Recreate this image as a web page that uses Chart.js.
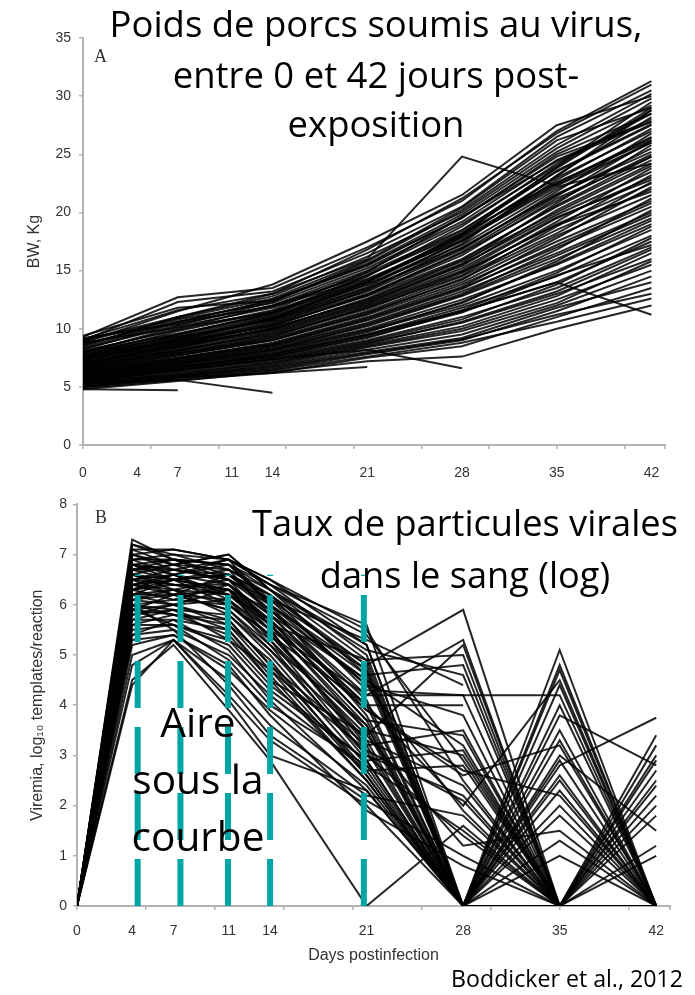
<!DOCTYPE html>
<html lang="fr">
<head>
<meta charset="utf-8">
<title>Boddicker et al., 2012</title>
<script src="https://cdn.jsdelivr.net/npm/chart.js@4.4.1/dist/chart.umd.min.js"></script>
<style>
html,body{margin:0;padding:0;background:#fff;}
#page{position:relative;width:695px;height:995px;overflow:hidden;background:#fff;}
#chartA,#chartB{position:absolute;left:0;}
#chartA{top:0;}
#chartB{top:490px;}
.ov{position:absolute;white-space:nowrap;color:#000;font-family:"Open Sans",sans-serif;transform:translateX(-50%);}
.panel{position:absolute;font-family:"Liberation Serif","Times New Roman",serif;font-size:18px;line-height:18px;color:#333;}
</style>
</head>
<body>
<div id="page">
<canvas id="chartA" width="695" height="490"></canvas>
<canvas id="chartB" width="695" height="505"></canvas>
<div class="panel" style="left:94px;top:47px;">A</div>
<div class="panel" style="left:95px;top:508px;">B</div>
</div>
<script>
// ---------------- DATA ----------------
const dayTickLabels = [0, 4, 7, 11, 14, 21, 28, 35, 42];
const weightDays = [0, 7, 14, 21, 28, 35, 42];
const viremiaDays = [0, 4, 7, 11, 14, 21, 28, 35, 42];

// Panel A: body weight (kg) per pig at weightDays
const weightsHeavy = [
  [9.3, 12.7, 13.5, 17.0, 21.0, 27.0, 31.3],
  [9.0, 12.3, 13.2, 16.5, 20.5, 26.5, 30.5],
  [9.2, 10.4, 12.0, 14.6, 18.2, 22.6, 26.2],
  [9.0, 11.0, 12.8, 16.2, 20.0, 25.5, 29.8],
  [8.8, 11.5, 13.8, 17.5, 21.5, 27.5, 30.0],
  [8.7, 10.6, 11.9, 14.3, 17.6, 22.2, 24.2],
  [8.6, 10.8, 12.2, 15.2, 19.2, 24.5, 28.0],
  [8.5, 11.0, 13.0, 16.0, 24.8, 22.3, 26.0],
  [8.3, 10.3, 12.3, 15.8, 20.2, 25.8, 30.2],
  [8.2, 10.5, 12.5, 15.5, 19.5, 25.0, 28.5],
  [8.0, 10.0, 12.0, 15.0, 19.0, 24.0, 29.5],
  [8.0, 9.6, 11.2, 14.5, 18.8, 24.2, 28.5],
  [7.9, 10.2, 11.8, 14.8, 18.5, 23.5, 27.5]
];
const weightsMid = [
  [7.8, 9.3, 10.7, 13.2, 16.8, 21.8, 26.8],
  [7.7, 9.8, 11.5, 14.2, 18.0, 23.0, 27.0],
  [7.6, 9.0, 10.9, 13.8, 17.5, 22.8, 27.2],
  [7.5, 9.5, 11.3, 14.0, 17.8, 22.5, 26.5],
  [7.5, 8.9, 10.2, 12.9, 16.3, 21.2, 24.8],
  [7.4, 9.2, 11.0, 13.8, 17.2, 22.0, 26.0],
  [7.3, 9.0, 10.8, 13.5, 17.0, 21.5, 25.5],
  [7.2, 8.8, 10.5, 13.0, 16.5, 21.0, 25.0],
  [7.1, 8.4, 10.1, 12.4, 15.6, 20.8, 25.8],
  [7.0, 8.7, 10.4, 13.3, 17.3, 23.2, 28.2],
  [7.0, 8.6, 10.3, 12.8, 16.0, 20.5, 24.5],
  [6.9, 8.5, 10.0, 12.5, 15.8, 20.0, 24.0],
  [6.9, 8.2, 9.5, 11.8, 14.6, 19.2, 23.8],
  [6.8, 8.3, 9.8, 12.2, 15.5, 19.8, 23.5],
  [6.7, 8.1, 9.6, 12.0, 15.0, 19.5, 23.0],
  [6.6, 8.0, 9.4, 11.7, 14.8, 19.0, 22.5],
  [6.6, 7.9, 9.1, 11.4, 14.2, 18.8, 23.2],
  [6.5, 7.8, 9.2, 11.5, 14.5, 18.5, 22.0]
];
const weightsLight = [
  [6.4, 7.7, 9.0, 11.2, 14.0, 18.0, 21.5],
  [6.4, 7.5, 8.7, 10.9, 13.6, 17.8, 22.2],
  [6.3, 7.5, 8.8, 11.0, 13.8, 17.5, 21.0],
  [6.2, 7.4, 8.6, 10.8, 13.5, 17.0, 20.5],
  [6.2, 7.2, 8.4, 10.4, 13.0, 16.8, 21.2],
  [6.1, 7.3, 8.5, 10.5, 13.2, 16.5, 20.0],
  [6.0, 7.2, 8.3, 10.2, 12.8, 16.0, 19.5],
  [6.0, 7.0, 8.1, 9.9, 12.2, 15.8, 20.2],
  [5.9, 7.0, 8.2, 10.0, 12.5, 15.5, 19.0],
  [5.8, 6.9, 8.0, 9.8, 12.0, 15.0, 18.5],
  [5.8, 6.7, 7.7, 9.4, 11.6, 14.8, 18.8],
  [5.7, 6.8, 7.8, 9.5, 11.8, 14.5, 18.0],
  [5.6, 6.7, 7.6, 9.2, 11.5, 14.0, 17.5],
  [5.6, 6.4, 7.4, 8.9, 10.8, 13.8, 17.8],
  [5.5, 6.5, 7.5, 9.0, 11.0, 13.5, 17.0],
  [5.5, 6.6, 7.8, 9.5, 11.5, 14.0, 11.2],
  [5.4, 6.4, 7.3, 8.8, 10.5, 13.0, 16.0],
  [5.4, 6.1, 7.1, 8.6, 10.2, 12.8, 16.5],
  [5.3, 6.2, 7.0, 8.5, 10.0, 12.5, 15.5],
  [5.2, 6.0, 6.8, 8.2, 9.5, 12.0, 15.0],
  [5.1, 5.9, 6.7, 8.0, 9.2, 11.8, 14.0],
  [5.0, 5.8, 6.5, 7.8, 9.0, 11.5, 14.5],
  [4.9, 5.6, 6.2, 7.5, 8.5, 11.0, 13.5],
  [4.8, 5.5, 6.3, 7.2, 7.6, 10.0, 12.0]
];
const weightsExtra = [
  [9.1, 11.6, 13.0, 16.8, 21.2, 26.8, 31.0],
  [8.9, 10.9, 12.6, 15.9, 20.4, 26.2, 29.0],
  [8.4, 10.6, 12.4, 15.6, 19.8, 25.2, 29.2],
  [8.1, 9.9, 11.6, 14.9, 19.6, 24.8, 27.8],
  [7.9, 9.5, 11.4, 14.6, 18.4, 23.8, 28.8],
  [7.7, 9.4, 11.1, 14.0, 18.2, 23.6, 27.6],
  [7.6, 9.2, 10.8, 13.6, 17.6, 22.4, 26.4],
  [7.4, 8.9, 10.6, 13.4, 16.9, 21.6, 25.2],
  [7.3, 8.7, 10.3, 12.9, 16.6, 21.4, 26.2],
  [7.1, 8.6, 10.0, 12.6, 15.9, 20.6, 24.8],
  [7.0, 8.4, 9.9, 12.3, 15.4, 20.2, 24.2],
  [6.8, 8.1, 9.7, 12.1, 15.2, 19.6, 22.8],
  [6.7, 7.9, 9.3, 11.9, 14.9, 18.9, 21.8],
  [6.5, 7.7, 9.0, 11.3, 14.3, 18.2, 22.6],
  [6.3, 7.4, 8.6, 10.7, 13.4, 17.2, 20.8],
  [6.1, 7.1, 8.2, 10.3, 12.9, 16.3, 19.8],
  [5.9, 6.9, 7.9, 9.7, 12.3, 15.6, 19.3],
  [5.7, 6.6, 7.6, 9.3, 11.4, 14.6, 17.2],
  [5.5, 6.3, 7.2, 8.7, 10.6, 13.2, 16.8],
  [5.3, 6.0, 6.9, 8.4, 9.8, 12.2, 15.8],
  [5.2, 5.9, 6.6, 7.9, 9.1, 11.2, 13.0],
  [5.0, 5.7, 6.4, 7.6, 8.8, 10.6, 12.6],
  [9.4, 11.8, 12.4, 15.4, 19.6, 24.4, 27.8],
  [8.8, 10.1, 11.4, 14.1, 17.9, 23.1, 28.8],
  [7.2, 9.1, 10.9, 14.0, 18.1, 23.9, 29.0]
];
const weightsTruncated = [
  [4.8, 4.7],
  [5.3, 5.6, 4.5],
  [5.0, 5.8, 6.2, 6.7],
  [5.6, 6.5, 7.4, 8.2, 6.6]
];

// Panel B: viremia (log10 templates/reaction) per pig at viremiaDays
const viremiaHigh = [
  [0, 7.3, 6.9, 6.8, 6.4, 5.0, 0, 0, 0],
  [0, 7.1, 7.1, 6.9, 6.5, 5.5, 2.5, 0, 0],
  [0, 7.2, 6.9, 6.8, 6.3, 5.1, 4.6, 0, 0],
  [0, 7.0, 6.8, 7.0, 6.3, 5.2, 0, 5.1, 0],
  [0, 7.0, 6.7, 6.6, 6.2, 4.7, 0, 4.0, 0],
  [0, 6.9, 7.0, 6.7, 6.2, 4.8, 5.9, 0, 0],
  [0, 6.9, 6.6, 6.8, 6.1, 4.4, 3.8, 0, 3.4],
  [0, 6.8, 6.6, 6.9, 6.0, 4.6, 0, 4.7, 0],
  [0, 6.8, 6.7, 6.5, 6.1, 5.3, 4.4],
  [0, 6.8, 6.5, 6.3, 5.9, 4.5, 3.2, 0, 0],
  [0, 6.7, 6.5, 6.6, 5.9, 4.2, 5.3, 0, 3.2],
  [0, 6.7, 6.9, 6.5, 5.9, 4.1, 0, 0, 0],
  [0, 6.6, 6.8, 6.4, 5.8, 4.5, 0, 0, 0],
  [0, 6.6, 6.5, 6.7, 5.8, 3.9, 2.6, 3.2, 0],
  [0, 6.6, 6.3, 6.5, 5.6, 3.6, 0, 4.8, 0]
];
const viremiaMid = [
  [0, 6.5, 6.4, 6.3, 5.7, 4.0, 2.0, 4.5, 0],
  [0, 6.5, 6.2, 6.6, 6.0, 3.8, 0, 0, 2.5],
  [0, 6.5, 6.7, 6.9, 6.4, 5.6, 0, 0, 0],
  [0, 6.4, 6.3, 6.2, 5.6, 3.5, 3.0, 0, 0],
  [0, 6.4, 6.6, 6.4, 5.7, 3.7, 0, 0, 1.2],
  [0, 6.3, 6.6, 6.1, 5.5, 4.2, 4.2, 4.2, 0],
  [0, 6.3, 6.1, 6.0, 5.4, 3.3, 0, 3.5, 0],
  [0, 6.3, 6.4, 6.2, 5.5, 3.1, 0, 2.5, 0],
  [0, 6.2, 6.0, 6.3, 5.3, 3.0, 2.2, 0, 0],
  [0, 6.2, 6.3, 6.0, 5.4, 4.0, 4.0],
  [0, 6.2, 6.5, 6.0, 5.3, 3.4, 5.2, 0, 0],
  [0, 6.1, 6.2, 5.9, 5.2, 3.6, 0, 2.8, 3.75],
  [0, 6.1, 6.0, 6.1, 5.2, 2.9, 0, 0, 2.0],
  [0, 6.0, 5.9, 5.8, 5.0, 2.8, 1.5, 0, 0],
  [0, 6.0, 6.1, 6.4, 5.6, 4.9, 5.0, 0, 0],
  [0, 6.0, 5.5, 4.4, 3.4, 2.1, 1.0, 0, 0]
];
const viremiaLow = [
  [0, 5.9, 5.8, 5.6, 4.9, 2.6, 0, 2.0, 0],
  [0, 5.9, 6.2, 5.9, 5.1, 3.3, 2.4, 0, 0],
  [0, 5.9, 5.6, 4.9, 4.0, 2.8, 0, 0, 2.7],
  [0, 5.8, 6.0, 5.7, 4.8, 3.2, 3.5, 0, 2.2],
  [0, 5.8, 5.9, 5.3, 4.7, 2.6, 0, 1.8, 0],
  [0, 5.7, 5.7, 5.5, 4.6, 2.5, 0, 0, 0],
  [0, 5.6, 5.8, 5.4, 4.5, 3.4, 1.2, 1.5, 0],
  [0, 5.5, 5.6, 5.2, 4.3, 2.9, 0, 3.0, 1.5],
  [0, 5.4, 5.5, 5.0, 4.2, 2.7, 2.8, 0, 0],
  [0, 5.2, 5.4, 4.7, 3.9, 2.4, 0, 0, 2.9],
  [0, 5.0, 5.3, 4.5, 3.6, 2.2, 1.8, 0, 0],
  [0, 4.8, 5.3, 4.2, 3.3, 2.0, 0, 1.0, 0],
  [0, 4.5, 5.2, 3.9, 2.9, 0, 1.6, 0, 0],
  [0, 4.4, 5.3, 4.1, 3.0, 2.3, 0, 2.3, 0]
];
const viremiaExtra = [
  [0, 7.2, 7.0, 6.9, 6.4, 5.4, 2.9, 0, 0],
  [0, 7.1, 6.8, 6.7, 6.3, 4.9, 0, 4.4, 0],
  [0, 6.9, 6.9, 6.6, 6.2, 4.3, 4.2, 0, 0],
  [0, 6.8, 6.9, 6.8, 6.0, 4.7, 0, 3.8, 2.8],
  [0, 6.7, 6.7, 6.5, 6.0, 4.4, 1.9, 0, 0],
  [0, 6.6, 6.4, 6.4, 5.8, 4.0, 0, 2.9, 0],
  [0, 6.5, 6.6, 6.2, 5.7, 3.7, 3.4, 0, 1.8],
  [0, 6.4, 6.2, 6.3, 5.5, 3.2, 0, 0, 0],
  [0, 6.3, 6.5, 6.3, 5.6, 3.9, 2.7, 2.2, 0],
  [0, 6.2, 6.2, 6.1, 5.4, 3.5, 0, 0, 3.0],
  [0, 6.1, 6.3, 5.8, 5.1, 3.0, 1.4, 0, 0],
  [0, 6.0, 5.8, 5.7, 4.8, 2.7, 0, 2.6, 0],
  [0, 5.9, 6.0, 5.6, 4.7, 3.1, 2.1, 0, 0],
  [0, 5.7, 5.9, 5.5, 4.5, 2.5, 0, 0, 2.4],
  [0, 5.6, 5.6, 5.3, 4.4, 2.9, 3.1, 0, 0],
  [0, 5.4, 5.7, 5.1, 4.1, 2.3, 0, 1.3, 0],
  [0, 5.3, 5.4, 4.8, 3.8, 1.9, 0.8, 0, 0],
  [0, 7.0, 7.1, 6.9, 6.5, 5.2, 0, 0, 1.0],
  [0, 6.7, 6.8, 7.0, 6.3, 4.6, 4.8, 0, 0],
  [0, 6.4, 6.5, 6.6, 6.1, 4.8, 0, 3.3, 0]
];

// Teal "area under the curve" markers (day, top value)
const aucMarkDays = [4.4, 7.5, 10.95, 14, 20.8];
const aucMarkTop = 6.6;

// Axis ticks
const bwTickStep = 5, bwMax = 35;
const viremiaTickStep = 1, viremiaMax = 8;
const dayAxisMax = 43, dayTickMarkStep = 5;

// Overlay texts
const titleLines = ['Poids de porcs soumis au virus,', 'entre 0 et 42 jours post-', 'exposition'];
const viremiaNoteLines = ['Taux de particules virales', 'dans le sang (log)'];
const aucNoteLines = ['Aire', 'sous la', 'courbe'];
const creditLine = ['Boddicker et al., 2012'];

// ---------------- RENDER ----------------
const axisGray = '#b3b3b3';
const labelGray = '#333333';
const sansFam = '"Liberation Sans", Arial, sans-serif';
const inkLine = 'rgba(0,0,0,0.85)';

function curve(days, vals) { return vals.map((v, i) => ({ x: days[i], y: v })); }
function blackSets(days, groups) {
  const out = [];
  groups.forEach(g => g.forEach(vals => out.push({
    data: curve(days, vals), borderColor: inkLine, borderWidth: 2,
    pointRadius: 0, fill: false, tension: 0, order: 1
  })));
  return out;
}

function dayAxes(labelPad, labelAxisHeight, title) {
  return {
    xt: {
      type: 'linear', position: 'bottom', weight: 0, min: 0, max: dayAxisMax,
      ticks: { stepSize: dayTickMarkStep, display: false },
      grid: { drawOnChartArea: false, drawTicks: true, tickLength: 4, color: axisGray, lineWidth: 1.5 },
      border: { display: false },
      afterFit: s => { s.height = 0; }
    },
    x: {
      type: 'linear', position: 'bottom', weight: 1, min: 0, max: dayAxisMax,
      afterBuildTicks: s => { s.ticks = dayTickLabels.map(v => ({ value: v })); },
      ticks: { autoSkip: false, maxRotation: 0, padding: labelPad, color: labelGray,
               font: { family: sansFam, size: 14 }, callback: v => String(v) },
      grid: { display: false, drawTicks: false },
      border: { display: true, color: axisGray, width: 2 },
      title: title ? { display: true, text: title, color: labelGray,
               font: { family: sansFam, size: 16 }, padding: { top: 0, bottom: 1 } } : { display: false },
      afterFit: s => { s.height = labelAxisHeight; }
    }
  };
}

function yAxis(max, step, width, pad, title, titlePad) {
  return {
    type: 'linear', position: 'left', min: 0, max: max,
    ticks: { stepSize: step, padding: pad, color: labelGray, font: { family: sansFam, size: 14 } },
    grid: { drawOnChartArea: false, drawTicks: true, tickLength: 4, color: axisGray, lineWidth: 1.5 },
    border: { display: true, color: axisGray, width: 2 },
    title: { display: true, text: title, color: labelGray, font: { family: sansFam, size: 16 },
             padding: { top: titlePad, bottom: 0 } },
    afterFit: s => { s.width = width; }
  };
}

const commonOpts = {
  responsive: false, animation: false, events: [],
  plugins: { legend: { display: false }, tooltip: { enabled: false }, title: { display: false } }
};

new Chart(document.getElementById('chartA'), {
  type: 'line',
  data: { datasets: blackSets(weightDays, [weightsHeavy, weightsMid, weightsLight, weightsExtra, weightsTruncated]) },
  options: Object.assign({}, commonOpts, {
    layout: { padding: { top: 38, right: 30, bottom: 0, left: 0 } },
    scales: Object.assign(dayAxes(20, 45, null), {
      y: yAxis(bwMax, bwTickStep, 83, 8, 'BW, Kg', 25)
    })
  })
});

const aucSets = aucMarkDays.map(d => ({
  data: [{ x: d, y: 0 }, { x: d, y: aucMarkTop }],
  borderColor: '#00a6a6', borderWidth: 6, borderDash: [47, 19], borderCapStyle: 'butt',
  pointRadius: 0, fill: false, tension: 0, order: 0
}));

new Chart(document.getElementById('chartB'), {
  type: 'line',
  data: { datasets: blackSets(viremiaDays, [viremiaHigh, viremiaMid, viremiaLow, viremiaExtra]).concat(aucSets) },
  options: Object.assign({}, commonOpts, {
    layout: { padding: { top: 13, right: 25, bottom: 29, left: 0 } },
    scales: Object.assign(dayAxes(17, 60, 'Days postinfection'), {
      y: yAxis(viremiaMax, viremiaTickStep, 77, 6, 'Viremia, log\u2081\u2080 templates/reaction', 28)
    })
  })
});

// ---------------- OVERLAY TEXT ----------------
const page = document.getElementById('page');
const measureCtx = document.createElement('canvas').getContext('2d');
function fitSize(lines, targetWidth) {
  measureCtx.font = '100px "Open Sans"';
  const w = Math.max.apply(null, lines.map(t => measureCtx.measureText(t).width));
  return 100 * targetWidth / w;
}
function placeBlock(lines, cx, baselines, targetWidth) {
  const fs = fitSize(lines, targetWidth);
  lines.forEach((t, i) => {
    const d = document.createElement('div');
    d.className = 'ov';
    d.textContent = t;
    d.style.fontSize = fs.toFixed(2) + 'px';
    d.style.lineHeight = fs.toFixed(2) + 'px';
    d.style.left = cx + 'px';
    d.style.top = (baselines[i] - 0.888 * fs).toFixed(1) + 'px';
    page.appendChild(d);
  });
}
placeBlock(titleLines, 376, [37, 88, 137], 533);
placeBlock(viremiaNoteLines, 465, [536, 588], 426);
placeBlock(aucNoteLines, 198, [738, 795, 852], 133);
placeBlock(creditLine, 567, [988], 232);
</script>
</body>
</html>
